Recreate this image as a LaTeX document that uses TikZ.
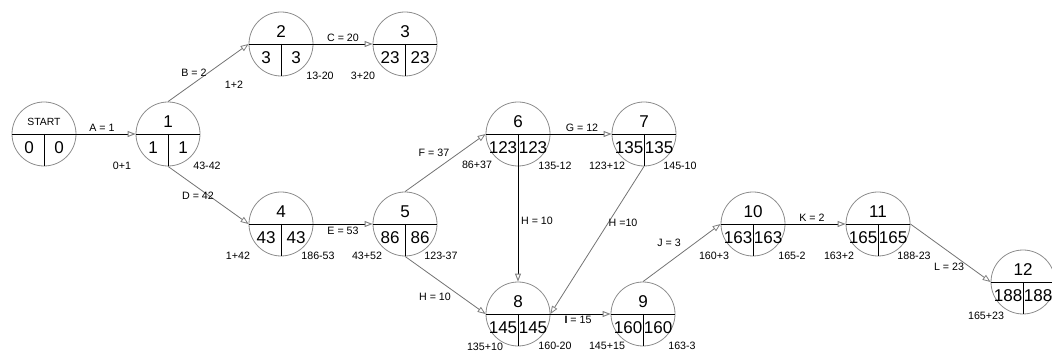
\documentclass[tikz,border=0pt]{standalone}
\usepackage{fontspec}
\setmainfont{Liberation Sans}
\usetikzlibrary{positioning,arrows.meta,calc}
\tikzset{
  evcirc/.style={circle,draw=black!45,line width=0.6pt,minimum size=48pt,
    inner sep=0pt},
  divline/.style={line width=0.7pt,black},
  numtop/.style={font=\fontsize{12.8}{14}\selectfont,inner sep=0pt},
  numstart/.style={font=\fontsize{7.8}{9}\selectfont,inner sep=0pt},
  numval/.style={font=\fontsize{12.8}{14}\selectfont,inner sep=0pt},
  actlbl/.style={font=\fontsize{8}{9}\selectfont,inner sep=0pt},
  calclbl/.style={font=\fontsize{8}{9}\selectfont,inner sep=0pt},
  hollow/.style={-{Triangle[open,length=6pt,width=4.5pt,color=black!50]}},
  flow/.style={hollow,line width=0.7pt,black},
  flowd/.style={hollow,line width=0.6pt,black!55},
}
% event circle: name, position, top style, number, early, late
\newcommand{\evnode}[6]{%
  \node[evcirc] (#1) at (#2) {};
  \draw[divline] (#1.west) -- (#1.east);
  \draw[divline] (#1.center) -- (#1.south);
  \node[#3] (#1-id) at ($(#1.center)+(0,-12)$) {#4};
  \node[numval] (#1-es) at ($(#1.center)+(-15,14)$) {#5};
  \node[numval] (#1-lf) at ($(#1.center)+(15,14)$) {#6};
}

\begin{document}
\begin{tikzpicture}[x=0.75pt,y=-0.75pt]
  \useasboundingbox (0,0) rectangle (1052,352);
  \evnode{s}{44,134}{numstart}{START}{0}{0}
  \evnode{e1}{168,134}{numtop}{1}{1}{1}
  \evnode{e2}{281,44}{numtop}{2}{3}{3}
  \evnode{e3}{405,44}{numtop}{3}{23}{23}
  \evnode{e4}{281,224}{numtop}{4}{43}{43}
  \evnode{e5}{405,224}{numtop}{5}{86}{86}
  \evnode{e6}{518,134}{numtop}{6}{123}{123}
  \evnode{e7}{644,134}{numtop}{7}{135}{135}
  \evnode{e8}{518,314}{numtop}{8}{145}{145}
  \evnode{e9}{643,314}{numtop}{9}{160}{160}
  \evnode{e10}{753,224}{numtop}{10}{163}{163}
  \evnode{e11}{878,224}{numtop}{11}{165}{165}
  \evnode{e12}{1023,282}{numtop}{12}{188}{188}

  \draw[flow] (s.east) -- (e1.west);
  \draw[flowd] (e1.north) -- (e2.west);
  \draw[flowd] (e1.south) -- (e4.west);
  \draw[flow] (e2.east) -- (e3.west);
  \draw[flow] (e4.east) -- (e5.west);
  \draw[flowd] (e5.north) -- (e6.west);
  \draw[flowd] (e5.south) -- (e8.west);
  \draw[flow] (e6.east) -- (e7.west);
  \draw[flow] (e6.south) -- (e8.north);
  \draw[flowd] (e7.south) -- (e8.east);
  \draw[flow] (e8.east) -- (e9.west);
  \draw[flowd] (e9.north) -- (e10.west);
  \draw[flow] (e10.east) -- (e11.west);
  \draw[flowd] (e11.east) -- (e12.west);

  % activity durations
  \node[actlbl] (lA) at (102,128) {A = 1};
  \node[actlbl] (lB) at (194,73) {B = 2};
  \node[actlbl] (lC) at (343,38) {C = 20};
  \node[actlbl] (lD) at (198,196) {D = 42};
  \node[actlbl] (lE) at (343,231) {E = 53};
  \node[actlbl] (lF) at (434,153) {F = 37};
  \node[actlbl] (lG) at (582,128) {G = 12};
  \node[actlbl] (lH1) at (537,221) {H = 10};
  \node[actlbl] (lH2) at (623,223) {H =10};
  \node[actlbl] (lH3) at (435,297) {H = 10};
  \node[actlbl] (lI) at (578,320) {\textbf{I} = 15};
  \node[actlbl] (lJ) at (669,243) {J = 3};
  \node[actlbl] (lK) at (812,218) {K = 2};
  \node[actlbl] (lL) at (949,267) {L = 23};

  % forward and backward sums
  \node[calclbl] (c1) at (122,166) {0+1};
  \node[calclbl] (c2) at (207,166) {43-42};
  \node[calclbl] (c3) at (234,85) {1+2};
  \node[calclbl] (c4) at (320,76) {13-20};
  \node[calclbl] (c5) at (363,76) {3+20};
  \node[calclbl] (c6) at (238,256) {1+42};
  \node[calclbl] (c7) at (318,256) {186-53};
  \node[calclbl] (c8) at (367,256) {43+52};
  \node[calclbl] (c9) at (441,256) {123-37};
  \node[calclbl] (c10) at (477,165) {86+37};
  \node[calclbl] (c11) at (555,166) {135-12};
  \node[calclbl] (c12) at (607,166) {123+12};
  \node[calclbl] (c13) at (680,166) {145-10};
  \node[calclbl] (c14) at (485,347) {135+10};
  \node[calclbl] (c15) at (555,346) {160-20};
  \node[calclbl] (c16) at (607,346) {145+15};
  \node[calclbl] (c17) at (682,346) {163-3};
  \node[calclbl] (c18) at (714,256) {160+3};
  \node[calclbl] (c19) at (792,256) {165-2};
  \node[calclbl] (c20) at (839,256) {163+2};
  \node[calclbl] (c21) at (914,256) {188-23};
  \node[calclbl] (c22) at (986,316) {165+23};
\end{tikzpicture}
\end{document}
